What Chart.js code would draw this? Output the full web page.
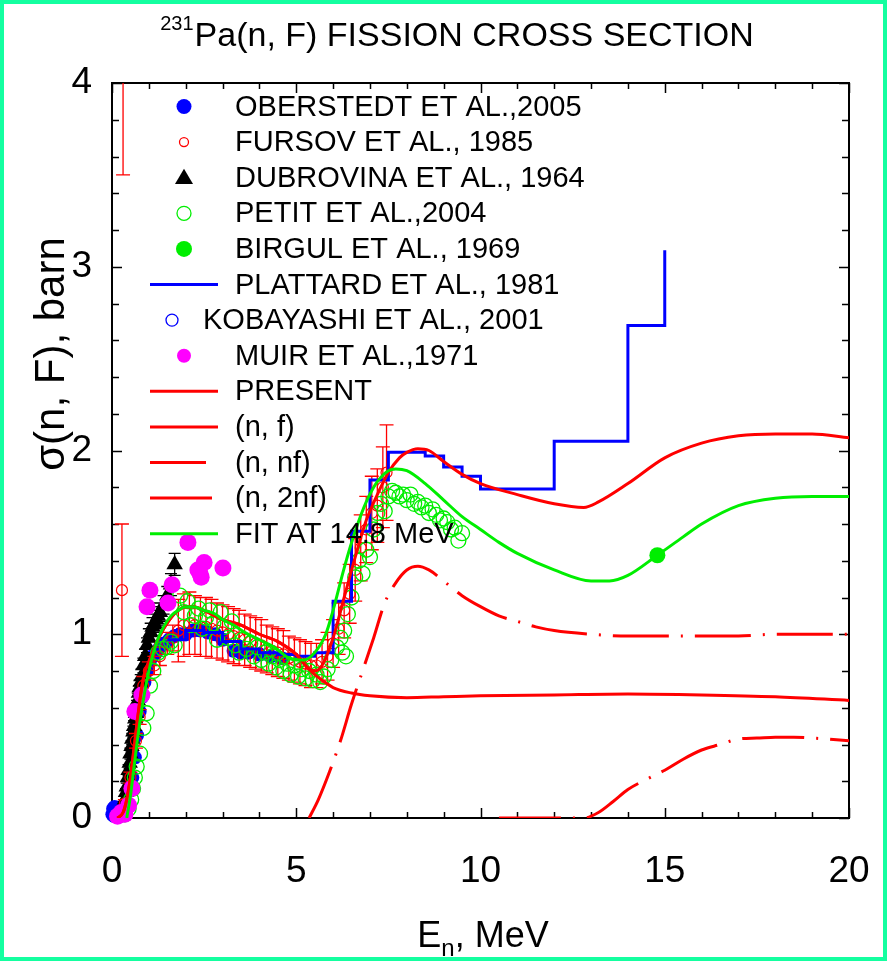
<!DOCTYPE html>
<html>
<head>
<meta charset="utf-8">
<title>231Pa(n, F) fission cross section</title>
<script src="https://cdn.jsdelivr.net/npm/chart.js@4.4.1/dist/chart.umd.min.js"></script>
<style>
  html, body { margin: 0; padding: 0; background: #fff; }
  #wrap { width: 887px; height: 961px; position: relative; }
  canvas { display: block; }
</style>
</head>
<body>
<div id="wrap"><canvas id="chart" width="887" height="961"></canvas></div>
<script>
// ---------- axis ticks ----------
const xTicks = [0, 5, 10, 15, 20];
const yTicks = [0, 1, 2, 3, 4];

// ---------- experimental data (E in MeV, sigma in barn) ----------
const oberstedtE = [0.01, 0.03, 0.05, 0.07, 0.09, 0.11, 0.13, 0.16, 0.19, 0.22,
  0.55, 0.62, 0.68, 0.75, 0.82, 0.88, 0.95, 1.02, 1.10, 1.20, 1.30, 1.42, 1.55, 1.70, 1.85,
  2.00, 2.20, 2.40, 2.60, 2.80, 3.00, 3.30, 3.50, 3.70, 4.00, 4.30, 4.60];
const oberstedtS = [0.02, 0.05, 0.03, 0.06, 0.01, 0.04, 0.02, 0.05, 0.03, 0.01,
  0.22, 0.33, 0.45, 0.58, 0.66, 0.74, 0.80, 0.85, 0.88, 0.90, 0.93, 0.95, 0.97, 0.99, 1.00,
  1.00, 1.02, 1.02, 1.01, 1.00, 0.97, 0.91, 0.90, 0.90, 0.89, 0.88, 0.87];
const oberstedtErr = [0.01, 0.01, 0.01, 0.01, 0.01, 0.01, 0.01, 0.01, 0.01, 0.01,
  0.03, 0.03, 0.03, 0.03, 0.03, 0.03, 0.03, 0.03, 0.03, 0.03, 0.03, 0.03, 0.03, 0.03, 0.03,
  0.03, 0.03, 0.03, 0.03, 0.03, 0.03, 0.03, 0.03, 0.03, 0.03, 0.03, 0.03];

const fursovE = [0.30, 0.27,
  0.35, 0.50, 0.65, 0.75, 0.85, 1.00, 1.15, 1.30, 1.50, 1.65,
  1.80, 1.95, 2.10, 2.25, 2.40, 2.55, 2.70, 2.85, 3.00, 3.15, 3.30, 3.45, 3.60, 3.75, 3.90,
  4.05, 4.20, 4.35, 4.50, 4.65, 4.80, 4.95, 5.10, 5.25, 5.40,
  5.55, 5.70, 5.85, 6.00, 6.15, 6.30, 6.45, 6.60, 6.75, 6.90, 7.05, 7.20, 7.35, 7.45];
const fursovS = [4.30, 1.24,
  0.08, 0.22, 0.42, 0.55, 0.72, 0.80, 0.83, 0.88, 0.95, 0.98,
  1.02, 1.05, 1.06, 1.05, 1.04, 1.04, 1.03, 1.02, 1.01, 1.00, 0.99, 0.98, 0.97, 0.96, 0.95,
  0.94, 0.92, 0.91, 0.90, 0.89, 0.87, 0.86, 0.85, 0.84, 0.83,
  0.83, 0.85, 0.88, 0.95, 1.03, 1.13, 1.22, 1.35, 1.47, 1.57, 1.66, 1.70, 1.80, 1.88];
const fursovErr = [0.80, 0.36,
  0.02, 0.03, 0.04, 0.04, 0.05, 0.05, 0.05, 0.05, 0.06, 0.07,
  0.17, 0.17, 0.17, 0.16, 0.16, 0.16, 0.16, 0.15, 0.15, 0.15, 0.15, 0.15, 0.14, 0.14, 0.14,
  0.14, 0.13, 0.13, 0.13, 0.13, 0.12, 0.12, 0.12, 0.12, 0.12,
  0.12, 0.12, 0.13, 0.13, 0.14, 0.15, 0.16, 0.17, 0.18, 0.18, 0.20, 0.20, 0.22, 0.26];

const dubrovinaE = [0.28, 0.32, 0.35, 0.38, 0.40, 0.43, 0.45, 0.48, 0.50, 0.53, 0.55, 0.58,
  0.60, 0.63, 0.65, 0.68, 0.70, 0.73, 0.75, 0.78, 0.80, 0.85, 0.90, 0.95, 1.00, 1.05, 1.10,
  1.15, 1.20, 1.25, 1.30, 1.40, 1.50, 1.60, 1.70];
const dubrovinaS = [0.03, 0.07, 0.10, 0.14, 0.17, 0.22, 0.26, 0.30, 0.35, 0.39, 0.43, 0.47,
  0.50, 0.54, 0.57, 0.61, 0.64, 0.68, 0.71, 0.74, 0.77, 0.83, 0.88, 0.94, 0.98, 1.01, 1.04,
  1.06, 1.08, 1.10, 1.12, 1.16, 1.21, 1.27, 1.38];
const dubrovinaErr = [0.02, 0.02, 0.02, 0.02, 0.02, 0.02, 0.03, 0.03, 0.03, 0.03, 0.03, 0.03,
  0.03, 0.03, 0.03, 0.03, 0.04, 0.04, 0.04, 0.04, 0.04, 0.04, 0.04, 0.04, 0.05, 0.05, 0.05,
  0.05, 0.05, 0.05, 0.05, 0.05, 0.05, 0.06, 0.06];

const petitE = [0.35, 0.45, 0.52, 0.57, 0.62, 0.67, 0.76, 0.85, 0.94, 1.03, 1.12, 1.25, 1.38,
  1.49, 1.60, 1.70, 1.85, 1.95, 2.05, 2.15, 2.25, 2.35, 2.45, 2.55, 2.65, 2.75, 2.85, 2.95,
  3.05, 3.15, 3.25, 3.35, 3.45, 3.55, 3.65, 3.75, 3.85, 3.95, 4.05, 4.15, 4.25, 4.35, 4.45,
  4.55, 4.65, 4.75, 4.85, 4.95, 5.05, 5.15, 5.25, 5.35, 5.45, 5.55, 5.65, 5.75, 5.85, 5.95,
  6.10, 6.20, 6.25, 6.30, 6.35, 6.40, 6.50, 6.60, 6.70, 6.80, 6.90, 7.00, 7.10, 7.20, 7.30,
  7.40, 7.50, 7.60, 7.70, 7.80, 7.90, 8.00, 8.10, 8.20, 8.30, 8.40, 8.50, 8.60, 8.70, 8.80,
  8.90, 9.00, 9.10, 9.20, 9.30, 9.40, 9.50];
const petitS = [0.02, 0.05, 0.10, 0.16, 0.22, 0.28, 0.35, 0.49, 0.57, 0.72, 0.80, 0.90, 0.92,
  0.93, 0.96, 0.94, 1.21, 1.12, 1.18, 1.05, 1.10, 1.14, 1.03, 1.09, 1.13, 1.06, 0.97, 1.12,
  1.04, 0.98, 1.07, 0.94, 0.90, 0.97, 0.92, 0.95, 0.88, 0.93, 0.86, 0.90, 0.84, 0.88, 0.82,
  0.86, 0.80, 0.84, 0.78, 0.83, 0.77, 0.81, 0.76, 0.80, 0.75, 0.78, 0.74, 0.77, 0.81, 0.86,
  0.93, 0.98, 0.90, 1.02, 0.88, 1.11, 1.20, 1.31, 1.40, 1.33, 1.46, 1.42, 1.57, 1.66, 1.71,
  1.67, 1.75, 1.78, 1.77, 1.75, 1.76, 1.73, 1.76, 1.71, 1.72, 1.69, 1.70, 1.66, 1.68, 1.65,
  1.62, 1.63, 1.61, 1.57, 1.58, 1.51, 1.55];

const birgulE = [14.8];
const birgulS = [1.43];

const kobayashiE = [0.04, 0.10, 0.18];
const kobayashiS = [0.01, 0.03, 0.02];

const muirE = [0.15, 0.25, 0.35, 0.45, 0.54, 0.62, 0.81, 0.95, 1.03, 1.52, 1.63, 2.06, 2.33,
  2.39, 2.42, 2.50, 3.01];
const muirS = [0.01, 0.03, 0.02, 0.07, 0.16, 0.58, 0.67, 1.15, 1.24, 1.17, 1.27, 1.50, 1.35,
  1.33, 1.31, 1.39, 1.36];

// Plattard histogram: bin lower edges and bin values (last entry closes the top bin)
const plattardE = [1.5, 2.0, 2.5, 3.0, 3.5, 4.0, 4.5, 5.0, 5.5, 6.0, 6.5, 7.0, 7.5, 8.0, 8.5,
  9.0, 9.5, 10.0, 12.0, 14.0, 15.0];
const plattardS = [0.97, 1.02, 1.01, 0.96, 0.92, 0.90, 0.89, 0.88, 0.90, 1.18, 1.56, 1.84, 1.99,
  1.99, 1.97, 1.91, 1.86, 1.79, 2.05, 2.68, 3.09];

// ---------- calculated curves ----------
const presentE = [0.15, 0.30, 0.40, 0.50, 0.60, 0.70, 0.80, 0.90, 1.00, 1.10, 1.20, 1.40, 1.60,
  1.80, 2.00, 2.20, 2.50, 3.00, 3.50, 4.00, 4.50, 5.00, 5.30, 5.50, 5.70, 6.00, 6.30, 6.60,
  6.90, 7.20, 7.50, 7.80, 8.00, 8.30, 8.60, 9.00, 9.50, 10.0, 11.0, 12.0, 12.8, 13.2, 14.0,
  15.0, 16.0, 17.0, 18.0, 19.0, 20.0];
const presentS = [0.00, 0.03, 0.10, 0.22, 0.38, 0.55, 0.70, 0.80, 0.85, 0.90, 0.95, 1.03, 1.09,
  1.13, 1.15, 1.15, 1.13, 1.08, 1.05, 1.00, 0.96, 0.89, 0.82, 0.80, 0.83, 0.98, 1.20, 1.42,
  1.62, 1.76, 1.88, 1.96, 1.99, 2.01, 2.00, 1.94, 1.87, 1.82, 1.76, 1.71, 1.69, 1.72, 1.82,
  1.96, 2.04, 2.08, 2.09, 2.09, 2.07];

const nfE = [0.15, 0.30, 0.40, 0.50, 0.60, 0.70, 0.80, 0.90, 1.00, 1.10, 1.20, 1.40, 1.60,
  1.80, 2.00, 2.20, 2.50, 3.00, 3.50, 4.00, 4.50, 5.00, 5.30, 5.50, 5.70, 6.00, 6.50, 7.00,
  8.00, 9.00, 10.0, 12.0, 14.0, 16.0, 18.0, 20.0];
const nfS = [0.00, 0.03, 0.10, 0.22, 0.38, 0.55, 0.70, 0.80, 0.85, 0.90, 0.95, 1.03, 1.09,
  1.13, 1.15, 1.15, 1.13, 1.08, 1.05, 1.00, 0.96, 0.89, 0.82, 0.78, 0.75, 0.71, 0.68, 0.665,
  0.655, 0.66, 0.665, 0.67, 0.675, 0.67, 0.66, 0.64];

const nnfE = [5.35, 5.60, 5.90, 6.20, 6.50, 6.80, 7.10, 7.40, 7.70, 8.00, 8.30, 8.60, 9.00,
  9.50, 10.0, 10.5, 11.0, 11.5, 12.0, 13.0, 14.0, 15.0, 16.0, 17.0, 18.0, 19.0, 20.0];
const nnfS = [0.00, 0.10, 0.25, 0.42, 0.62, 0.80, 0.98, 1.17, 1.28, 1.35, 1.37, 1.35, 1.29,
  1.21, 1.15, 1.10, 1.07, 1.04, 1.02, 1.00, 0.99, 0.99, 0.99, 0.99, 1.00, 1.00, 1.00];

const n2nfE = [10.5, 11.0, 12.0, 12.8, 13.2, 13.6, 14.0, 14.5, 15.0, 15.5, 16.0, 16.5, 17.0,
  17.5, 18.0, 18.5, 19.0, 20.0];
const n2nfS = [0.00, 0.00, 0.00, 0.00, 0.03, 0.09, 0.155, 0.21, 0.26, 0.32, 0.37, 0.40, 0.43,
  0.435, 0.44, 0.44, 0.435, 0.42];

const fitE = [0.40, 0.50, 0.60, 0.70, 0.80, 0.90, 1.00, 1.20, 1.40, 1.60, 1.80, 2.00, 2.20,
  2.50, 2.80, 3.00, 3.30, 3.60, 4.00, 4.40, 4.80, 5.00, 5.20, 5.50, 5.80, 6.00, 6.30, 6.60,
  6.90, 7.20, 7.50, 7.70, 8.00, 8.50, 9.00, 9.50, 10.0, 10.5, 11.0, 12.0, 13.0, 13.5, 14.0,
  14.8, 15.5, 16.0, 17.0, 18.0, 19.0, 20.0];
const fitS = [0.00, 0.12, 0.28, 0.44, 0.58, 0.70, 0.80, 0.95, 1.04, 1.10, 1.13, 1.15, 1.15,
  1.13, 1.11, 1.08, 1.05, 1.01, 0.97, 0.93, 0.87, 0.86, 0.86, 0.90, 1.00, 1.13, 1.36, 1.56,
  1.72, 1.83, 1.89, 1.90, 1.89, 1.82, 1.73, 1.64, 1.57, 1.50, 1.44, 1.35, 1.29, 1.29, 1.32,
  1.43, 1.53, 1.60, 1.70, 1.74, 1.75, 1.75];

// ---------- text ----------
const titleSup = '231';
const titleMain = 'Pa(n, F) FISSION CROSS SECTION';
const yTitle = 'σ(n, F), barn';
const xTitleMain = 'E';
const xTitleSub = 'n';
const xTitleRest = ', MeV';

// ---------- styling ----------
const RED = '#ff0000', BLUE = '#0000ff', GREEN = '#00ee00', MAGENTA = '#ff00ff', BLACK = '#000000';
const FONT = '"Liberation Sans", Arial, Helvetica, sans-serif';
const DASH_NNF = [56, 12, 2, 12];
const DASH_N2NF = [62, 12, 2, 12];

const pts = (xs, ys) => xs.map((x, i) => ({ x: x, y: ys[i] }));

const datasets = [
  { label: 'OBERSTEDT ET AL.,2005', data: pts(oberstedtE, oberstedtS), err: oberstedtErr,
    errColor: BLUE, capHalf: 4, pointStyle: 'circle', pointRadius: 7,
    backgroundColor: BLUE, borderColor: BLUE, borderWidth: 0, clip: false, order: 10 },
  { label: 'FURSOV ET AL., 1985', data: pts(fursovE, fursovS), err: fursovErr,
    errColor: RED, capHalf: 7, pointStyle: 'circle', pointRadius: 5.5,
    backgroundColor: 'rgba(0,0,0,0)', borderColor: RED, borderWidth: 1.2, order: 8 },
  { label: 'DUBROVINA ET AL., 1964', data: pts(dubrovinaE, dubrovinaS), err: dubrovinaErr,
    errColor: BLACK, capHalf: 6, pointStyle: 'triangle', pointRadius: 9.5,
    backgroundColor: BLACK, borderColor: BLACK, borderWidth: 0, clip: false, order: 9 },
  { label: 'PETIT ET AL.,2004', data: pts(petitE, petitS), pointStyle: 'circle', pointRadius: 7.5,
    backgroundColor: 'rgba(0,0,0,0)', borderColor: GREEN, borderWidth: 1.3, clip: false, order: 7 },
  { label: 'BIRGUL ET AL., 1969', data: pts(birgulE, birgulS), pointStyle: 'circle', pointRadius: 8,
    backgroundColor: GREEN, borderColor: GREEN, borderWidth: 0, order: 0 },
  { label: 'PLATTARD ET AL., 1981', data: pts(plattardE, plattardS), showLine: true, stepped: 'before',
    pointRadius: 0, borderColor: BLUE, borderWidth: 3, fill: false, order: 5 },
  { label: 'KOBAYASHI ET AL., 2001', data: pts(kobayashiE, kobayashiS), pointStyle: 'circle',
    pointRadius: 6, backgroundColor: 'rgba(0,0,0,0)', borderColor: BLUE, borderWidth: 1.3,
    clip: false, order: 11 },
  { label: 'MUIR ET AL.,1971', data: pts(muirE, muirS), pointStyle: 'circle', pointRadius: 8.5,
    backgroundColor: MAGENTA, borderColor: MAGENTA, borderWidth: 0, clip: false, order: 6 },
  { label: 'PRESENT', data: pts(presentE, presentS), showLine: true, pointRadius: 0,
    borderColor: RED, borderWidth: 3, cubicInterpolationMode: 'monotone', fill: false, order: 1 },
  { label: '(n, f)', data: pts(nfE, nfS), showLine: true, pointRadius: 0,
    borderColor: RED, borderWidth: 3, cubicInterpolationMode: 'monotone', fill: false, order: 2 },
  { label: '(n, nf)', data: pts(nnfE, nnfS), showLine: true, pointRadius: 0, borderDash: DASH_NNF,
    borderColor: RED, borderWidth: 3, cubicInterpolationMode: 'monotone', fill: false, order: 3 },
  { label: '(n, 2nf)', data: pts(n2nfE, n2nfS), showLine: true, pointRadius: 0, borderDash: DASH_N2NF,
    borderColor: RED, borderWidth: 3, cubicInterpolationMode: 'monotone', fill: false, order: 4 },
  { label: 'FIT AT 14.8 MeV', data: pts(fitE, fitS), showLine: true, pointRadius: 0,
    borderColor: GREEN, borderWidth: 3, cubicInterpolationMode: 'monotone', fill: false, order: 0.5 }
];

// legend rows: which dataset each row shows, and how its key is drawn
const legendKeys = [
  { ds: 0, kind: 'dot', r: 7.5 },
  { ds: 1, kind: 'ring', r: 4.5 },
  { ds: 2, kind: 'tri', r: 9 },
  { ds: 3, kind: 'ring', r: 7 },
  { ds: 4, kind: 'dot', r: 8 },
  { ds: 5, kind: 'line' },
  { ds: 6, kind: 'ring', r: 6, shift: -12, textShift: -32 },
  { ds: 7, kind: 'dot', r: 7 },
  { ds: 8, kind: 'line' },
  { ds: 9, kind: 'line' },
  { ds: 10, kind: 'line' },
  { ds: 11, kind: 'line' },
  { ds: 12, kind: 'line' }
];

// white page background
const background = {
  id: 'background',
  beforeDraw(chart) {
    const ctx = chart.ctx;
    ctx.save();
    ctx.fillStyle = '#ffffff';
    ctx.fillRect(0, 0, chart.width, chart.height);
    ctx.restore();
  }
};

// plot frame with inward major/minor ticks on all four sides
const frame = {
  id: 'frame',
  beforeDatasetsDraw(chart) {
    const { ctx, chartArea: a, scales: { x, y } } = chart;
    ctx.save();
    ctx.strokeStyle = '#000';
    ctx.lineWidth = 1.5;
    ctx.beginPath();
    for (let i = 0; i <= 20; i++) {
      const px = Math.round(x.getPixelForValue(i)) + 0.5;
      const len = (i % 5 === 0) ? 10 : 6;
      ctx.moveTo(px, a.bottom); ctx.lineTo(px, a.bottom - len);
      ctx.moveTo(px, a.top); ctx.lineTo(px, a.top + len);
    }
    for (let i = 0; i <= 20; i++) {
      const py = Math.round(y.getPixelForValue(i / 5)) + 0.5;
      const len = (i % 5 === 0) ? 10 : 7;
      ctx.moveTo(a.left, py); ctx.lineTo(a.left + len, py);
      ctx.moveTo(a.right, py); ctx.lineTo(a.right - len, py);
    }
    ctx.stroke();
    ctx.lineWidth = 2;
    ctx.strokeRect(a.left, a.top, a.right - a.left, a.bottom - a.top);
    ctx.restore();
  }
};

// vertical error bars with caps, drawn under each dataset's markers
const errorBars = {
  id: 'errorBars',
  beforeDatasetDraw(chart, args) {
    const ds = chart.data.datasets[args.index];
    if (!ds.err) return;
    const { ctx, chartArea: a, scales: { x, y } } = chart;
    ctx.save();
    ctx.beginPath();
    ctx.rect(a.left, a.top, a.right - a.left, a.bottom - a.top);
    ctx.clip();
    ctx.strokeStyle = ds.errColor;
    ctx.lineWidth = 1.3;
    ctx.beginPath();
    ds.data.forEach((p, i) => {
      const e = ds.err[i];
      const px = x.getPixelForValue(p.x);
      const top = y.getPixelForValue(p.y + e);
      const bot = y.getPixelForValue(p.y - e);
      ctx.moveTo(px, top); ctx.lineTo(px, bot);
      ctx.moveTo(px - ds.capHalf, top); ctx.lineTo(px + ds.capHalf, top);
      ctx.moveTo(px - ds.capHalf, bot); ctx.lineTo(px + ds.capHalf, bot);
    });
    ctx.stroke();
    ctx.restore();
  }
};

// titles, in-plot legend and the page border
const decor = {
  id: 'decor',
  afterDraw(chart) {
    const ctx = chart.ctx;
    ctx.save();
    ctx.fillStyle = '#000';

    // title with superscript mass number
    ctx.textAlign = 'left';
    ctx.textBaseline = 'alphabetic';
    ctx.font = '20px ' + FONT;
    const supW = ctx.measureText(titleSup).width;
    ctx.font = '34px ' + FONT;
    const mainW = ctx.measureText(titleMain).width;
    const tx = 457 - (supW + 1 + mainW) / 2;
    ctx.font = '20px ' + FONT;
    ctx.fillText(titleSup, tx, 30);
    ctx.font = '34px ' + FONT;
    ctx.fillText(titleMain, tx + supW + 1, 46);

    // y axis title
    ctx.save();
    ctx.translate(52, 354);
    ctx.rotate(-Math.PI / 2);
    ctx.textAlign = 'center';
    ctx.textBaseline = 'middle';
    ctx.font = '42px ' + FONT;
    ctx.fillText(yTitle, 0, 0);
    ctx.restore();

    // x axis title with subscript
    ctx.textAlign = 'left';
    ctx.textBaseline = 'alphabetic';
    ctx.font = '36px ' + FONT;
    const eW = ctx.measureText(xTitleMain).width;
    const rW = ctx.measureText(xTitleRest).width;
    ctx.font = '24px ' + FONT;
    const sW = ctx.measureText(xTitleSub).width;
    const xt = 483 - (eW + sW + rW) / 2;
    ctx.font = '36px ' + FONT;
    ctx.fillText(xTitleMain, xt, 947);
    ctx.font = '24px ' + FONT;
    ctx.fillText(xTitleSub, xt + eW, 956);
    ctx.font = '36px ' + FONT;
    ctx.fillText(xTitleRest, xt + eW + sW, 947);

    // legend
    const rowY0 = 106.5, rowStep = 35.6;
    const symX = 184, lineX0 = 150, lineX1 = 218, textX = 235;
    ctx.font = '29px ' + FONT;
    ctx.textBaseline = 'middle';
    legendKeys.forEach((k, i) => {
      const ds = chart.data.datasets[k.ds];
      const yy = rowY0 + i * rowStep;
      const sx = symX + (k.shift || 0);
      ctx.save();
      if (k.kind === 'line') {
        ctx.strokeStyle = ds.borderColor;
        ctx.lineWidth = 3;
        ctx.setLineDash(ds.borderDash || []);
        ctx.beginPath();
        ctx.moveTo(lineX0, yy); ctx.lineTo(lineX1, yy);
        ctx.stroke();
      } else if (k.kind === 'dot') {
        ctx.fillStyle = ds.backgroundColor;
        ctx.beginPath(); ctx.arc(sx, yy, k.r, 0, Math.PI * 2); ctx.fill();
      } else if (k.kind === 'ring') {
        ctx.strokeStyle = ds.borderColor;
        ctx.lineWidth = 1.3;
        ctx.beginPath(); ctx.arc(sx, yy, k.r, 0, Math.PI * 2); ctx.stroke();
      } else if (k.kind === 'tri') {
        ctx.fillStyle = ds.backgroundColor;
        ctx.beginPath();
        ctx.moveTo(sx, yy - k.r); ctx.lineTo(sx + k.r, yy + k.r * 0.7); ctx.lineTo(sx - k.r, yy + k.r * 0.7);
        ctx.closePath(); ctx.fill();
      }
      ctx.restore();
      ctx.fillStyle = '#000';
      ctx.fillText(ds.label, textX + (k.textShift || 0), yy + 1);
    });

    // page border
    ctx.strokeStyle = '#14ffa0';
    ctx.lineWidth = 4;
    ctx.strokeRect(2, 2, chart.width - 4, chart.height - 4);
    ctx.restore();
  }
};

new Chart(document.getElementById('chart'), {
  type: 'scatter',
  data: { datasets: datasets },
  options: {
    responsive: false,
    maintainAspectRatio: false,
    devicePixelRatio: 1,
    animation: false,
    events: [],
    layout: { padding: { left: 0, right: 38, top: 83, bottom: 0 } },
    plugins: { legend: { display: false }, tooltip: { enabled: false }, title: { display: false } },
    scales: {
      x: {
        type: 'linear', min: 0, max: 20,
        afterBuildTicks: s => { s.ticks = xTicks.map(v => ({ value: v })); },
        afterFit: s => { s.height = 143; s.paddingLeft = 0; s.paddingRight = 0; },
        grid: { display: false }, border: { display: false },
        ticks: { color: '#000', padding: 24, maxRotation: 0, autoSkip: false,
          font: { family: FONT, size: 37 } }
      },
      y: {
        type: 'linear', min: 0, max: 4,
        afterBuildTicks: s => { s.ticks = yTicks.map(v => ({ value: v })); },
        afterFit: s => { s.width = 112; s.paddingTop = 0; s.paddingBottom = 0; },
        grid: { display: false }, border: { display: false },
        ticks: { color: '#000', padding: 12, autoSkip: false,
          font: { family: FONT, size: 37 } }
      }
    }
  },
  plugins: [background, frame, errorBars, decor]
});
</script>
</body>
</html>
